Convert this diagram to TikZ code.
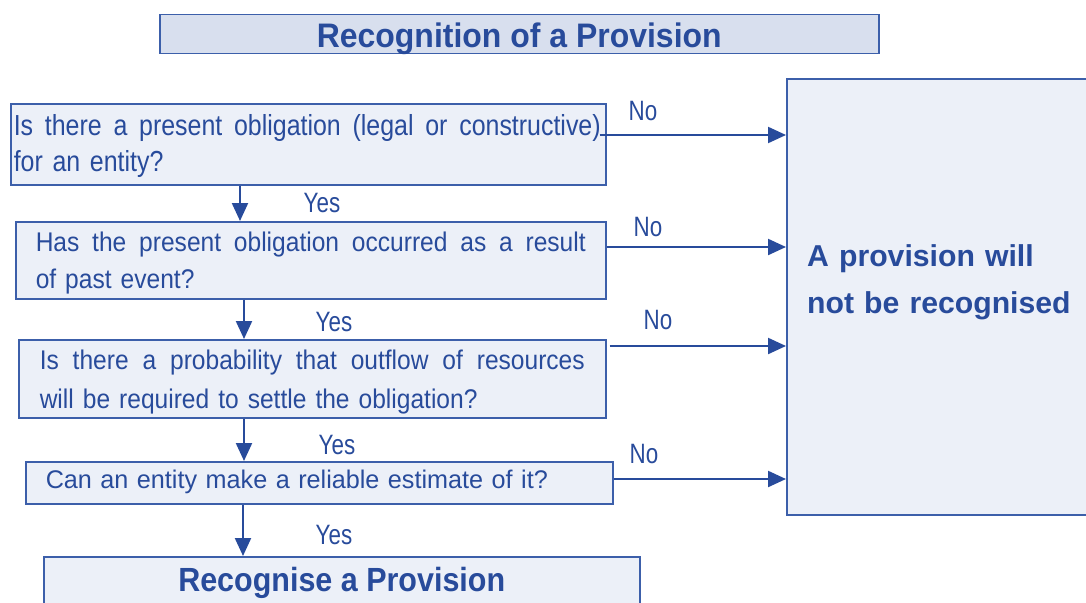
\documentclass[tikz,border=0pt]{standalone}
\usepackage{fontspec}
\newfontfamily\fa[FakeStretch=0.86]{Liberation Sans}
\newfontfamily\fb[FakeStretch=0.91]{Liberation Sans}
\newfontfamily\fc[FakeStretch=0.988]{Liberation Sans}
\newfontfamily\fl[FakeStretch=0.8]{Liberation Sans}
\newfontfamily\ft[FakeStretch=0.94]{Liberation Sans}
\newfontfamily\fr{Liberation Sans}
\newcommand\spreadline[2]{\makebox[#1][s]{\spaceskip=0.25em plus 1fil\xspaceskip=0.25em plus 1fil #2}}
\usetikzlibrary{arrows.meta}
\definecolor{tblue}{RGB}{40,75,155}
\definecolor{bblue}{RGB}{60,95,170}
\definecolor{lfill}{RGB}{236,240,248}
\definecolor{tfill}{RGB}{216,223,238}
\begin{document}
\begin{tikzpicture}[x=1pt,y=-1pt,
  qbox/.style={draw=bblue, line width=1.5pt, fill=lfill, anchor=north west, text=tblue,
    align=left, inner ysep=0pt},
  headbox/.style={draw=bblue, line width=1.5pt, anchor=north west, text=tblue, inner sep=0pt},
  lbl/.style={text=tblue, font=\fl\fontsize{28}{32}\selectfont, inner sep=0pt, anchor=base},
  arr/.style={draw=tblue, line width=2.2pt, -{Triangle[length=18pt,width=16pt]}}]
\useasboundingbox (0,0) rectangle (1086,602);

% title
\node[headbox, fill=tfill, minimum width=719, text height=33pt, text depth=6pt,
  font=\ft\bfseries\fontsize{34}{40}\selectfont] (title) at (159,14) {Recognition of a Provision};

% question boxes
\node[qbox, inner xsep=3pt, text width=589pt, text height=32pt, text depth=49pt,
  font=\fa\fontsize{29}{36}\selectfont] (q1) at (10,103)
  {\spreadline{587pt}{Is there a present obligation (legal or constructive)}\\for an entity?};
\node[qbox, inner xsep=20pt, text width=550pt, text height=30pt, text depth=47pt,
  font=\fb\fontsize{27}{37}\selectfont] (q2) at (15,221)
  {\spreadline{550pt}{Has the present obligation occurred as a result}\\of past event?};
\node[qbox, inner xsep=21pt, text width=545pt, text height=30pt, text depth=48pt,
  font=\fb\fontsize{27}{39}\selectfont] (q3) at (18,339)
  {\spreadline{545pt}{Is there a probability that outflow of resources}\\will be required to settle the obligation?};
\node[qbox, inner xsep=20pt, text width=547pt, text height=27pt, text depth=15pt,
  font=\fc\fontsize{25.5}{30}\selectfont] (q4) at (25,461)
  {Can an entity make a reliable estimate of it?};

% result boxes
\node[headbox, fill=lfill, minimum width=596, text height=35pt, text depth=15pt,
  font=\fb\bfseries\fontsize{33.5}{40}\selectfont] (rec) at (43,556) {Recognise a Provision};
\node[draw=bblue, line width=1.5pt, fill=lfill, anchor=north west, minimum width=310,
  minimum height=436, inner sep=0pt] (nr) at (786,78) {};
\node[anchor=base west, text=tblue, font=\fr\bfseries\fontsize{30.2}{47}\selectfont,
  text width=280pt, align=left, inner sep=0pt] (nrtext) at (807,266) {A provision will\\not be recognised};

% helper coordinates
\coordinate (d1) at (240,0);
\coordinate (d2) at (244,0);
\coordinate (d3) at (244,0);
\coordinate (d4) at (243,0);
\coordinate (r1) at (0,135);
\coordinate (r2) at (0,247);
\coordinate (r3) at (0,346);
\coordinate (r4) at (0,479);

% down arrows
\draw[arr] (q1.south -| d1) -- (q2.north -| d1);
\draw[arr] (q2.south -| d2) -- (q3.north -| d2);
\draw[arr] (q3.south -| d3) -- (q4.north -| d3);
\draw[arr] (q4.south -| d4) -- (rec.north -| d4);

% right arrows
\draw[arr] ([xshift=-7pt]q1.east |- r1) -- (nr.west |- r1);
\draw[arr] (q2.east |- r2) -- (nr.west |- r2);
\draw[arr] ([xshift=3pt]q3.east |- r3) -- (nr.west |- r3);
\draw[arr] (q4.east |- r4) -- (nr.west |- r4);

% labels
\node[lbl] (y1) at (322,212) {Yes};
\node[lbl] (y2) at (334,331) {Yes};
\node[lbl] (y3) at (337,454) {Yes};
\node[lbl] (y4) at (334,544) {Yes};
\node[lbl] (n1) at (643,120) {No};
\node[lbl] (n2) at (648,236) {No};
\node[lbl] (n3) at (658,329) {No};
\node[lbl] (n4) at (644,463) {No};
\end{tikzpicture}
\end{document}
